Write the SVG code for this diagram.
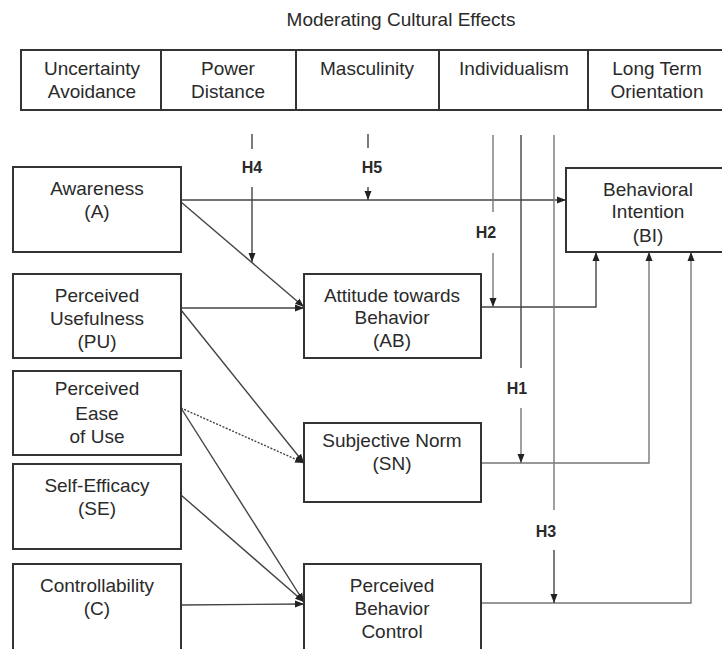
<svg xmlns="http://www.w3.org/2000/svg" width="722" height="649" viewBox="0 0 722 649">
<defs>
<style>
.box{fill:#fff;stroke:#333;stroke-width:2}
.t{font-family:"Liberation Sans",Arial,sans-serif;font-size:19px;fill:#2a2a2a;text-anchor:middle}
.h{font-family:"Liberation Sans",Arial,sans-serif;font-size:16px;font-weight:bold;fill:#2a2a2a;text-anchor:middle}
.c{fill:none;stroke:#444;stroke-width:1.4}
.g{fill:none;stroke:#777;stroke-width:1.4}
.d{fill:none;stroke:#444;stroke-width:1.4;stroke-dasharray:2 1.5}
</style>
<marker id="ar" markerUnits="userSpaceOnUse" markerWidth="10" markerHeight="8" refX="9" refY="4" orient="auto">
<path d="M0,0.5 L9,4 L0,7.5 z" fill="#222"/>
</marker>
</defs>
<rect width="722" height="649" fill="#fff"/>
<text class="t" x="401" y="26">Moderating Cultural Effects</text>
<g id="cultural">
<rect class="box" x="21" y="50" width="710" height="60"/>
<line class="box" x1="161" y1="50" x2="161" y2="110"/>
<line class="box" x1="296" y1="50" x2="296" y2="110"/>
<line class="box" x1="439" y1="50" x2="439" y2="110"/>
<line class="box" x1="588" y1="50" x2="588" y2="110"/>
<text class="t" x="92" y="75">Uncertainty</text>
<text class="t" x="92" y="98">Avoidance</text>
<text class="t" x="228" y="75">Power</text>
<text class="t" x="228" y="98">Distance</text>
<text class="t" x="367" y="75">Masculinity</text>
<text class="t" x="514" y="75">Individualism</text>
<text class="t" x="657" y="75">Long Term</text>
<text class="t" x="657" y="98">Orientation</text>
</g>
<g id="connectors">
<line class="c" x1="181" y1="200" x2="566" y2="200" marker-end="url(#ar)"/>
<line class="c" x1="368" y1="134" x2="368" y2="148"/>
<line class="c" x1="368" y1="187" x2="368" y2="200" marker-end="url(#ar)"/>
<line class="c" x1="252" y1="134" x2="252" y2="149"/>
<line class="c" x1="252" y1="187" x2="252" y2="262" marker-end="url(#ar)"/>
<line class="c" x1="181" y1="202" x2="304" y2="307" marker-end="url(#ar)"/>
<line class="c" x1="181" y1="308" x2="304" y2="308" marker-end="url(#ar)"/>
<polyline class="c" points="481,307 596,307 596,252" marker-end="url(#ar)"/>
<line class="g" x1="493" y1="135" x2="493" y2="212"/>
<line class="g" x1="493" y1="253" x2="493" y2="307" marker-end="url(#ar)"/>
<line class="c" x1="181" y1="310" x2="304" y2="463" marker-end="url(#ar)"/>
<line class="d" x1="181" y1="408" x2="304" y2="463" marker-end="url(#ar)"/>
<line class="c" x1="181" y1="408" x2="304" y2="602" marker-end="url(#ar)"/>
<line class="c" x1="181" y1="495" x2="304" y2="602" marker-end="url(#ar)"/>
<line class="c" x1="181" y1="605" x2="304" y2="604" marker-end="url(#ar)"/>
<polyline class="g" points="481,463 649,463 649,252" marker-end="url(#ar)"/>
<line class="c" x1="521" y1="135" x2="521" y2="368"/>
<line class="g" x1="521" y1="408" x2="521" y2="463" marker-end="url(#ar)"/>
<polyline class="g" points="481,603 691,603 691,252" marker-end="url(#ar)"/>
<line class="g" x1="554" y1="135" x2="554" y2="510"/>
<line class="c" x1="554" y1="550" x2="554" y2="603" marker-end="url(#ar)"/>
<text class="h" x="252" y="173">H4</text>
<text class="h" x="372" y="173">H5</text>
<text class="h" x="486" y="238">H2</text>
<text class="h" x="517" y="394">H1</text>
<text class="h" x="546" y="537">H3</text>
</g>
<g id="A">
<rect class="box" x="13" y="167" width="168" height="85"/>
<text class="t" x="97" y="195">Awareness</text>
<text class="t" x="97" y="218">(A)</text>
</g>
<g id="PU">
<rect class="box" x="13" y="274" width="168" height="84"/>
<text class="t" x="97" y="302">Perceived</text>
<text class="t" x="97" y="325">Usefulness</text>
<text class="t" x="97" y="348">(PU)</text>
</g>
<g id="PEOU">
<rect class="box" x="13" y="371" width="168" height="84"/>
<text class="t" x="97" y="395">Perceived</text>
<text class="t" x="97" y="420">Ease</text>
<text class="t" x="97" y="443">of Use</text>
</g>
<g id="SE">
<rect class="box" x="13" y="464" width="168" height="85"/>
<text class="t" x="97" y="492">Self-Efficacy</text>
<text class="t" x="97" y="515">(SE)</text>
</g>
<g id="C">
<rect class="box" x="13" y="564" width="168" height="100"/>
<text class="t" x="97" y="592">Controllability</text>
<text class="t" x="97" y="615">(C)</text>
</g>
<g id="AB">
<rect class="box" x="304" y="274" width="177" height="84"/>
<text class="t" x="392" y="302">Attitude towards</text>
<text class="t" x="392" y="324">Behavior</text>
<text class="t" x="392" y="347">(AB)</text>
</g>
<g id="SN">
<rect class="box" x="304" y="423" width="177" height="79"/>
<text class="t" x="392" y="447">Subjective Norm</text>
<text class="t" x="392" y="470">(SN)</text>
</g>
<g id="PBC">
<rect class="box" x="304" y="564" width="177" height="100"/>
<text class="t" x="392" y="592">Perceived</text>
<text class="t" x="392" y="615">Behavior</text>
<text class="t" x="392" y="638">Control</text>
</g>
<g id="BI">
<rect class="box" x="566" y="168" width="165" height="84"/>
<text class="t" x="648" y="196">Behavioral</text>
<text class="t" x="648" y="218">Intention</text>
<text class="t" x="648" y="242">(BI)</text>
</g>
</svg>
